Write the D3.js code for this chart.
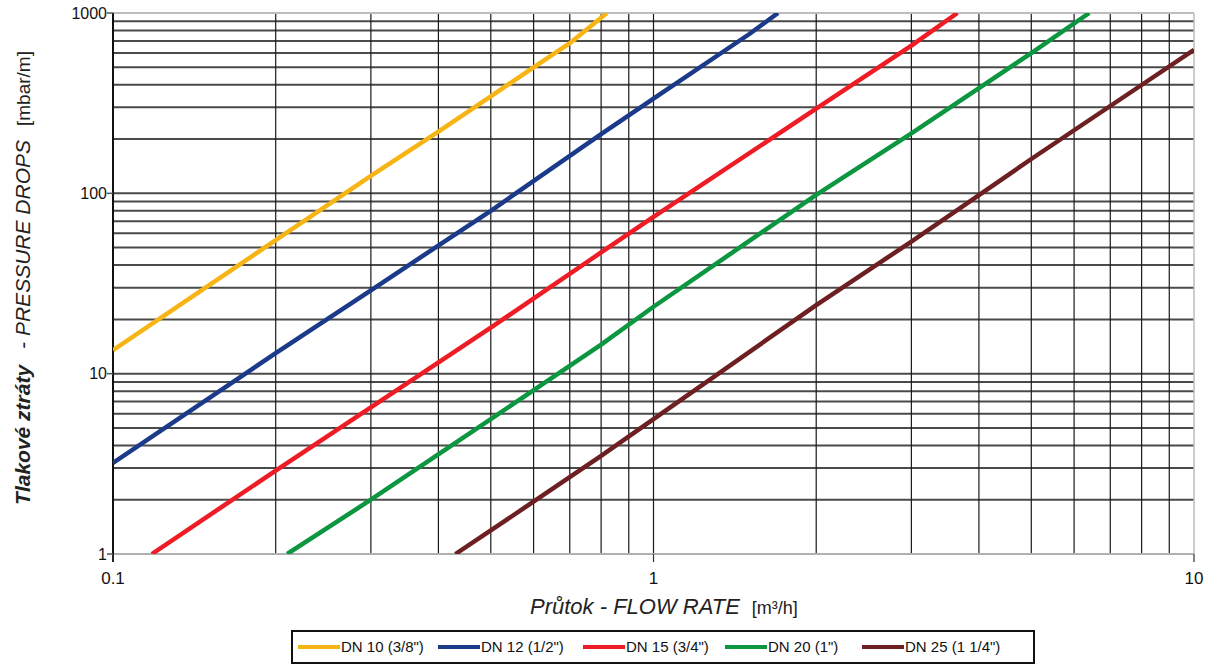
<!DOCTYPE html>
<meta charset="utf-8">
<style>
body { margin: 0; background-color: #fff; }
svg { font-family: "Liberation Sans", Arial, sans-serif; }
.grid-v line { stroke: #1a1a1a; stroke-width: 1.2px; }
.grid-h line { stroke: #4a4a4a; stroke-width: 2px; }
.curve { fill: none; stroke-width: 4.5px; stroke-linejoin: round; stroke-linecap: butt; }
.tick-label { font-size: 15px; fill: #111; }
</style>
<body>
<svg width="1212" height="666"></svg>
<script src="https://cdnjs.cloudflare.com/ajax/libs/d3/7.8.5/d3.min.js"></script>
<script>
// series names and colours
var seriesNames = ["DN 10 (3/8\")", "DN 12 (1/2\")", "DN 15 (3/4\")", "DN 20 (1\")", "DN 25 (1 1/4\")"];
var seriesColors = ["#f7b515", "#1b3a8a", "#ee1c25", "#0c9640", "#6d1f22"];

// flow rate [m3/h] / pressure drop [mbar/m]
var dn10 = [[0.1, 13.5], [0.2, 55], [0.3, 125], [0.4, 220], [0.5, 345], [0.6, 500], [0.7, 680], [0.82, 1000]];
var dn12 = [[0.1, 3.2], [0.2, 13], [0.3, 29], [0.5, 80], [0.8, 213], [1, 335], [1.5, 760], [1.7, 1000]];
var dn15 = [[0.118, 1], [0.2, 2.9], [0.3, 6.5], [0.5, 18], [0.8, 47], [1, 74], [2, 295], [3, 660], [3.65, 1000]];
var dn20 = [[0.21, 1], [0.3, 2.0], [0.5, 5.6], [0.8, 14.5], [1, 23.5], [2, 98], [3, 215], [5, 600], [6.4, 1000]];
var dn25 = [[0.43, 1], [0.5, 1.35], [0.8, 3.5], [1, 5.6], [2, 24], [3, 54], [5, 155], [7, 305], [10, 625]];
var allSeries = [dn10, dn12, dn15, dn20, dn25];

// ticks
var xTickLabels = [0.1, 1, 10];
var yTickLabels = [1, 10, 100, 1000];

var svg = d3.select("svg"),
    margin = {top: 13, right: 18, bottom: 112, left: 113},
    width = +svg.attr("width") - margin.left - margin.right,
    height = +svg.attr("height") - margin.top - margin.bottom;

var x = d3.scaleLog().domain([0.1, 10]).range([0, width]);
var y = d3.scaleLog().domain([1, 1000]).range([height, 0]);

var g = svg.append("g")
    .attr("transform", "translate(" + margin.left + "," + margin.top + ")");

// minor grid values (2..9 in each decade)
var xGrid = [], yGrid = [];
[0.1, 1].forEach(function(d) { for (var k = 2; k <= 10; k++) xGrid.push(d * k); });
[1, 10, 100].forEach(function(d) { for (var k = 2; k <= 10; k++) yGrid.push(d * k); });
xGrid = xGrid.filter(function(v) { return v < 9.99; });
yGrid = yGrid.filter(function(v) { return v < 999; });

g.append("g").attr("class", "grid-h")
  .selectAll("line").data(yGrid).enter().append("line")
    .attr("x1", 0).attr("x2", width)
    .attr("y1", function(d) { return y(d); })
    .attr("y2", function(d) { return y(d); });

g.append("g").attr("class", "grid-v")
  .selectAll("line").data(xGrid).enter().append("line")
    .attr("y1", 0).attr("y2", height)
    .attr("x1", function(d) { return x(d); })
    .attr("x2", function(d) { return x(d); });

// light frame top / bottom / right
g.append("line").attr("x1", 0).attr("x2", width).attr("y1", y(1000)).attr("y2", y(1000))
  .attr("stroke", "#bdbdbd").attr("stroke-width", 2);
g.append("line").attr("x1", 0).attr("x2", width).attr("y1", y(1)).attr("y2", y(1))
  .attr("stroke", "#b0b0b0").attr("stroke-width", 2);
g.append("line").attr("x1", x(10)).attr("x2", x(10)).attr("y1", 0).attr("y2", height)
  .attr("stroke", "#bdbdbd").attr("stroke-width", 1.5);

// left axis line
g.append("line").attr("x1", 0).attr("x2", 0).attr("y1", 0).attr("y2", height + 8)
  .attr("stroke", "#111").attr("stroke-width", 2);

// x ticks + labels
g.append("g").selectAll("line").data(xTickLabels).enter().append("line")
    .attr("x1", function(d) { return x(d); }).attr("x2", function(d) { return x(d); })
    .attr("y1", height).attr("y2", height + 8)
    .attr("stroke", "#333").attr("stroke-width", 1.2);
g.append("g").selectAll("text").data(xTickLabels).enter().append("text")
    .attr("class", "tick-label")
    .attr("x", function(d) { return x(d); })
    .attr("y", height + 30)
    .attr("text-anchor", "middle")
    .style("font-size", "17px")
    .text(function(d) { return d; });

// y ticks + labels
g.append("g").selectAll("line").data(yTickLabels).enter().append("line")
    .attr("x1", -6).attr("x2", 0)
    .attr("y1", function(d) { return y(d); }).attr("y2", function(d) { return y(d); })
    .attr("stroke", "#555").attr("stroke-width", 1.5);
g.append("g").selectAll("text").data(yTickLabels).enter().append("text")
    .attr("class", "tick-label")
    .attr("x", -6)
    .attr("y", function(d) { return y(d); })
    .attr("dy", "0.35em")
    .attr("text-anchor", "end")
    .style("font-size", "16px")
    .text(function(d) { return d; });

// curves
g.append("clipPath").attr("id", "plot-clip")
  .append("rect").attr("width", width).attr("height", height);

var line = d3.line()
    .x(function(d) { return x(d[0]); })
    .y(function(d) { return y(d[1]); });

g.append("g").attr("clip-path", "url(#plot-clip)")
  .selectAll("path").data(allSeries).enter().append("path")
    .attr("class", "curve")
    .attr("stroke", function(d, i) { return seriesColors[i]; })
    .attr("d", line);

// axis titles
var xt = svg.append("text")
    .attr("x", 530).attr("y", 614)
    .style("font-size", "22px").attr("fill", "#222");
xt.append("tspan").style("font-style", "italic").text("Průtok - FLOW RATE");
xt.append("tspan").attr("dx", 12).style("font-size", "18px").text("[m³/h]");

var yt = svg.append("text")
    .attr("transform", "translate(30," + 278 + ") rotate(-90)")
    .attr("text-anchor", "middle")
    .style("font-size", "21px").attr("fill", "#222");
yt.append("tspan").style("font-style", "italic").style("font-weight", "bold").text("Tlakové ztráty");
yt.append("tspan").attr("dx", 16).style("font-style", "italic").text("- PRESSURE DROPS");
yt.append("tspan").attr("dx", 14).style("font-size", "19px").text("[mbar/m]");

// legend
var legend = svg.append("g");
legend.append("rect")
    .attr("x", 292).attr("y", 631).attr("width", 742).attr("height", 32)
    .attr("fill", "#fff").attr("stroke", "#111").attr("stroke-width", 2);

var legendX = [298, 438, 583, 725, 862];
var items = legend.selectAll("g.item").data(seriesNames).enter().append("g")
    .attr("class", "item")
    .attr("transform", function(d, i) { return "translate(" + legendX[i] + ",647)"; });
items.append("line")
    .attr("x1", 0).attr("x2", 42).attr("y1", 0).attr("y2", 0)
    .attr("stroke", function(d, i) { return seriesColors[i]; })
    .attr("stroke-width", 4);
items.append("text")
    .attr("x", 43).attr("dy", "0.35em")
    .style("font-size", "15px").attr("fill", "#111")
    .text(function(d) { return d; });
</script>
